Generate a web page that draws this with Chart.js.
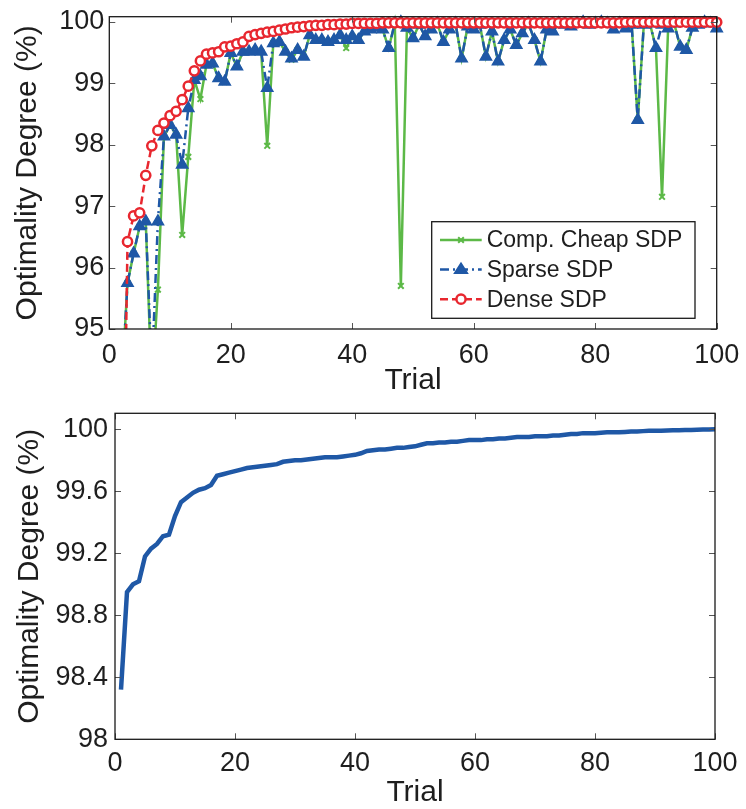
<!DOCTYPE html>
<html><head><meta charset="utf-8">
<script src="https://cdn.jsdelivr.net/npm/chart.js@4/dist/chart.umd.min.js"></script>
<style>
html,body{margin:0;padding:0;background:#fff;width:746px;height:809px;overflow:hidden}
#c1{position:absolute;left:0;top:0}
#c2{position:absolute;left:0;top:400px}
</style></head><body>
<canvas id="c1" width="746" height="400"></canvas>
<canvas id="c2" width="746" height="409"></canvas>
<script>
// ---------- data ----------
const trials = Array.from({length: 100}, (_, i) => i + 1);

const cheapSDP = [93.0, 94.0, 95.75, 96.23, 96.67, 96.75, 94.0, 95.64, 98.13, 98.32,
 98.16, 96.53, 97.80, 99.05, 98.74, 99.30, 99.32, 99.08, 99.02, 99.49,
 99.27, 99.51, 99.51, 99.54, 99.51, 97.98, 99.65, 99.67, 99.51, 99.38,
 99.54, 99.43, 99.78, 99.70, 99.70, 99.67, 99.70, 99.78, 99.57, 99.76,
 99.70, 99.84, 99.87, 99.90, 99.87, 99.57, 99.97, 95.70, 99.90, 99.73,
 99.95, 99.76, 99.87, 99.97, 99.67, 99.87, 99.97, 99.40, 99.92, 99.87,
 99.95, 99.43, 99.84, 99.35, 99.70, 99.87, 99.62, 99.81, 99.97, 99.70,
 99.35, 99.87, 99.84, 99.97, 99.95, 99.92, 99.97, 99.99, 99.95, 99.97,
 99.99, 99.97, 99.87, 99.97, 99.89, 99.95, 98.40, 99.95, 99.97, 99.57,
 97.15, 99.89, 99.97, 99.59, 99.54, 99.90, 99.95, 99.99, 99.97, 99.89];

const sparseSDP = [93.0, 94.0, 95.75, 96.23, 96.67, 96.75, 94.3, 96.75, 98.13, 98.32,
 98.16, 97.67, 98.59, 99.05, 99.11, 99.30, 99.32, 99.08, 99.02, 99.49,
 99.27, 99.51, 99.51, 99.54, 99.51, 98.92, 99.65, 99.67, 99.51, 99.40,
 99.54, 99.43, 99.78, 99.70, 99.70, 99.67, 99.70, 99.78, 99.70, 99.76,
 99.70, 99.84, 99.87, 99.90, 99.87, 99.57, 99.97, 99.99, 99.90, 99.73,
 99.95, 99.76, 99.87, 99.97, 99.67, 99.87, 99.97, 99.40, 99.92, 99.87,
 99.95, 99.43, 99.84, 99.35, 99.70, 99.87, 99.62, 99.81, 99.97, 99.70,
 99.35, 99.87, 99.84, 99.97, 99.95, 99.92, 99.97, 99.99, 99.95, 99.97,
 99.99, 99.97, 99.87, 99.97, 99.89, 99.95, 98.40, 99.95, 99.97, 99.57,
 99.95, 99.89, 99.97, 99.59, 99.54, 99.90, 99.95, 99.99, 99.97, 99.89];

const denseSDP = [85.0, 90.0, 96.42, 96.84, 96.89, 97.50, 97.98, 98.23, 98.35, 98.47,
 98.54, 98.73, 98.95, 99.20, 99.36, 99.47, 99.49, 99.51, 99.59, 99.60,
 99.64, 99.67, 99.76, 99.79, 99.81, 99.83, 99.84, 99.86, 99.88, 99.90,
 99.91, 99.92, 99.93, 99.94, 99.94, 99.95, 99.95, 99.96, 99.96, 99.97,
 99.97, 99.97, 99.97, 99.97, 99.98, 99.98, 99.98, 99.98, 99.98, 99.98,
 99.98, 99.98, 99.98, 99.98, 99.98, 99.98, 99.98, 99.98, 99.98, 99.98,
 99.98, 99.98, 99.98, 99.98, 99.98, 99.98, 99.98, 99.98, 99.98, 99.98,
 99.98, 99.98, 99.98, 99.98, 99.98, 99.98, 99.98, 99.98, 99.98, 99.98,
 99.98, 99.98, 99.98, 99.98, 99.99, 99.99, 99.99, 99.99, 99.99, 99.99,
 99.99, 99.99, 99.99, 99.99, 99.99, 99.99, 99.99, 99.99, 99.99, 99.99];

const sortedDegree = [98.32, 98.95, 99.00, 99.02, 99.18, 99.23, 99.26, 99.31, 99.32, 99.44,
 99.53, 99.56, 99.59, 99.61, 99.62, 99.64, 99.70, 99.71, 99.72, 99.73,
 99.74, 99.75, 99.755, 99.76, 99.765, 99.77, 99.775, 99.79, 99.795, 99.80,
 99.80, 99.805, 99.81, 99.815, 99.82, 99.82, 99.82, 99.825, 99.83, 99.835,
 99.845, 99.86, 99.865, 99.87, 99.87, 99.875, 99.88, 99.88, 99.885, 99.89,
 99.90, 99.91, 99.91, 99.915, 99.915, 99.92, 99.92, 99.925, 99.93, 99.93,
 99.93, 99.935, 99.935, 99.94, 99.94, 99.945, 99.95, 99.95, 99.95, 99.955,
 99.955, 99.955, 99.96, 99.96, 99.965, 99.97, 99.97, 99.975, 99.975, 99.975,
 99.978, 99.98, 99.98, 99.98, 99.983, 99.985, 99.985, 99.988, 99.99, 99.99,
 99.99, 99.992, 99.993, 99.994, 99.995, 99.996, 99.997, 99.998, 99.999, 100.0];

const seriesLabels = ['Comp. Cheap SDP', 'Sparse SDP', 'Dense SDP'];
const xTicks = [0, 20, 40, 60, 80, 100];
const xTickLabels = ['0', '20', '40', '60', '80', '100'];
const yTicksTop = [95, 96, 97, 98, 99, 100];
const yTickLabelsTop = ['95', '96', '97', '98', '99', '100'];
const yTicksBottom = [98, 98.4, 98.8, 99.2, 99.6, 100];
const yTickLabelsBottom = ['98', '98.4', '98.8', '99.2', '99.6', '100'];
const xTitle = 'Trial';
const yTitle = 'Optimality Degree (%)';

// ---------- styles ----------
const FONT = '"Liberation Sans", Arial, Helvetica, sans-serif';
const TXT = '#1e1e1e';
const GREEN = '#5cb947', BLUE = '#1f58a6', RED = '#e8272f';

const pts = arr => trials.map((t, i) => ({x: t, y: arr[i]}));

const boxPlugin = {
  id: 'matlabBox',
  afterDraw(chart) {
    const {ctx, chartArea: a, scales} = chart;
    ctx.save();
    ctx.setLineDash([]);
    ctx.strokeStyle = '#555'; ctx.lineWidth = 1;
    const L = 6;
    ctx.beginPath();
    scales.x.ticks.forEach(t => {
      const px = Math.round(scales.x.getPixelForValue(t.value)) + 0.5;
      ctx.moveTo(px, a.bottom); ctx.lineTo(px, a.bottom - L);
      ctx.moveTo(px, a.top); ctx.lineTo(px, a.top + L);
    });
    scales.y.ticks.forEach(t => {
      const py = Math.round(scales.y.getPixelForValue(t.value)) + 0.5;
      ctx.moveTo(a.left, py); ctx.lineTo(a.left + L, py);
      ctx.moveTo(a.right, py); ctx.lineTo(a.right - L, py);
    });
    ctx.stroke();
    ctx.strokeStyle = '#1a1a1a'; ctx.lineWidth = 1.3;
    ctx.strokeRect(a.left, a.top, a.right - a.left, a.bottom - a.top);
    ctx.restore();
  }
};

function drawMarker(ctx, style, x, y, r) {
  ctx.beginPath();
  if (style === 'circle') {
    ctx.arc(x, y, r, 0, Math.PI * 2);
    ctx.fill(); ctx.stroke();
  } else if (style === 'triangle') {
    const h = r * 1.5;
    ctx.moveTo(x, y - r);
    ctx.lineTo(x + r * 0.866 * 1.15, y + r * 0.5 * 1.15);
    ctx.lineTo(x - r * 0.866 * 1.15, y + r * 0.5 * 1.15);
    ctx.closePath();
    ctx.fill(); ctx.stroke();
  } else if (style === 'crossRot') {
    const d = r * 0.707;
    ctx.moveTo(x - d, y - d); ctx.lineTo(x + d, y + d);
    ctx.moveTo(x + d, y - d); ctx.lineTo(x - d, y + d);
    ctx.stroke();
  }
}

const legendPlugin = {
  id: 'insetLegend',
  afterDraw(chart) {
    const {ctx, chartArea: a} = chart;
    const w = 263.3, h = 96.6;
    const x0 = a.right - 21.7 - w, y0 = a.bottom - 10.7 - h;
    ctx.save();
    ctx.fillStyle = '#fff'; ctx.fillRect(x0, y0, w, h);
    ctx.strokeStyle = '#1a1a1a'; ctx.lineWidth = 1.3; ctx.strokeRect(x0, y0, w, h);
    chart.data.datasets.forEach((ds, i) => {
      const cy = y0 + 18.3 + i * 29.6;
      ctx.strokeStyle = ds.borderColor; ctx.lineWidth = ds.borderWidth;
      ctx.setLineDash(ds.borderDash || []);
      ctx.beginPath(); ctx.moveTo(x0 + 8.3, cy); ctx.lineTo(x0 + 50, cy); ctx.stroke();
      ctx.setLineDash([]);
      ctx.fillStyle = ds.pointBackgroundColor; ctx.strokeStyle = ds.pointBorderColor;
      ctx.lineWidth = ds.pointBorderWidth;
      drawMarker(ctx, ds.pointStyle, x0 + 29.3, cy, ds.pointRadius);
      ctx.fillStyle = TXT; ctx.font = '23px ' + FONT;
      ctx.textBaseline = 'middle'; ctx.textAlign = 'left';
      ctx.fillText(ds.label, x0 + 55, cy + 1);
    });
    ctx.restore();
  }
};

function makeScales(o) {
  return {
    x: {
      type: 'linear', min: 0, max: 100, position: 'bottom',
      afterBuildTicks: s => { s.ticks = xTicks.map(v => ({value: v})); },
      afterFit: s => { s.height = o.xh; s.paddingLeft = 0; s.paddingRight = 0; },
      ticks: {font: {family: FONT, size: 27}, color: TXT, padding: o.xpad, maxRotation: 0, autoSkip: false,
              callback: (v, i) => xTickLabels[i]},
      grid: {display: false, drawTicks: false}, border: {display: false},
      title: {display: true, text: xTitle, color: TXT, font: {family: FONT, size: 30, lineHeight: 1}, padding: {top: 0, bottom: o.xtpad}}
    },
    y: {
      type: 'linear', min: o.ymin, max: o.ymax, position: 'left',
      afterBuildTicks: s => { s.ticks = o.yticks.map(v => ({value: v})); },
      afterFit: s => { s.width = o.yw; s.paddingTop = 0; s.paddingBottom = 0; },
      ticks: {font: {family: FONT, size: 27}, color: TXT, padding: o.ypad, autoSkip: false,
              callback: (v, i) => o.ylabels[i]},
      grid: {display: false, drawTicks: false}, border: {display: false},
      title: {display: true, text: yTitle, color: TXT, font: {family: FONT, size: 30, lineHeight: 1}, padding: {top: o.ytpad, bottom: 0}}
    }
  };
}

const common = {
  responsive: false, animation: false, events: [],
  plugins: {legend: {display: false}, tooltip: {enabled: false}}
};

new Chart(document.getElementById('c1'), {
  type: 'line',
  data: {
    datasets: [
      {label: seriesLabels[0], data: pts(cheapSDP), borderColor: GREEN, borderWidth: 2.5, borderDash: [],
       pointStyle: 'crossRot', pointRadius: 4, pointBorderWidth: 2, pointBorderColor: GREEN, pointBackgroundColor: GREEN,
       tension: 0, order: 3, clip: {left: 10, top: 10, right: 10, bottom: 0}},
      {label: seriesLabels[1], data: pts(sparseSDP), borderColor: BLUE, borderWidth: 2.5, borderDash: [9, 4, 2, 4],
       pointStyle: 'triangle', pointRadius: 6.5, pointBorderWidth: 1.5, pointBorderColor: BLUE, pointBackgroundColor: BLUE,
       tension: 0, order: 2, clip: {left: 10, top: 10, right: 10, bottom: 0}},
      {label: seriesLabels[2], data: pts(denseSDP), borderColor: RED, borderWidth: 2.5, borderDash: [8, 4],
       pointStyle: 'circle', pointRadius: 4.6, pointBorderWidth: 2.5, pointBorderColor: RED, pointBackgroundColor: '#ffffff',
       tension: 0, order: 1, clip: {left: 10, top: 10, right: 10, bottom: 0}}
    ]
  },
  options: Object.assign({}, common, {
    layout: {padding: {left: 0, top: 16.7, right: 29.3, bottom: 0}},
    scales: makeScales({xh: 71, xpad: 10, xtpad: 4, yw: 109.3, ypad: 5, ytpad: 13,
                        ymin: 95, ymax: 100.08, yticks: yTicksTop, ylabels: yTickLabelsTop})
  }),
  plugins: [boxPlugin, legendPlugin]
});

new Chart(document.getElementById('c2'), {
  type: 'line',
  data: {
    datasets: [
      {label: 'Optimality Degree', data: pts(sortedDegree), borderColor: BLUE, borderWidth: 4.5,
       pointRadius: 0, tension: 0}
    ]
  },
  options: Object.assign({}, common, {
    layout: {padding: {left: 0, top: 13.3, right: 31, bottom: 0}},
    scales: makeScales({xh: 69.7, xpad: 8.5, xtpad: 1, yw: 115, ypad: 7, ytpad: 15,
                        ymin: 98, ymax: 100.103, yticks: yTicksBottom, ylabels: yTickLabelsBottom})
  }),
  plugins: [boxPlugin]
});
</script></body></html>
